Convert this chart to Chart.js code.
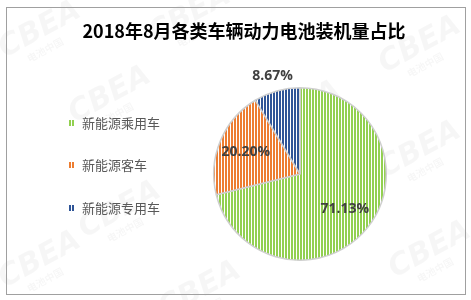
<!DOCTYPE html>
<html>
<head>
<meta charset="utf-8">
<script src="https://cdn.jsdelivr.net/npm/chart.js@4/dist/chart.umd.min.js"></script>
<style>
  html, body { margin: 0; padding: 0; background: #fff; }
  #wrap { width: 471px; height: 300px; position: relative; }
</style>
</head>
<body>
<div id="wrap"><canvas id="pieChart" width="471" height="300"></canvas></div>
<script>
// =========================
// DATA
// =========================
const chartTitle = "2018年8月各类车辆动力电池装机量占比";
const categories = ["新能源乘用车", "新能源客车", "新能源专用车"];
const shares = [71.13, 20.20, 8.67];
const labels = ["71.13%", "20.20%", "8.67%"];
const baseColors = ["#92d050", "#ed7d31", "#2f5597"];

// striped fill like the Excel pattern
function stripes(color) {
    const c = document.createElement("canvas");
    c.width = 3;
    c.height = 3;
    const g = c.getContext("2d");
    g.fillStyle = "#ffffff";
    g.fillRect(0, 0, 3, 3);
    g.fillStyle = color;
    g.fillRect(0, 0, 2, 3);
    return g.createPattern(c, "repeat");
}

const patterns = baseColors.map(stripes);

// title, legend, frame, watermark and value labels
const decor = {
    id: "decor",
    beforeDraw(chart) {
        const ctx = chart.ctx;
        ctx.save();
        ctx.fillStyle = "#fff";
        ctx.fillRect(0, 0, chart.width, chart.height);

        // faint watermark
        ctx.fillStyle = "rgba(0,0,0,0.035)";
        ctx.textAlign = "center";
        ctx.textBaseline = "middle";
        const spots = [[40, 30], [190, 15], [420, 45], [110, 95], [300, 110], [420, 150],
                       [120, 210], [300, 225], [430, 250], [40, 260], [200, 290]];
        spots.forEach(p => {
            ctx.save();
            ctx.translate(p[0], p[1]);
            ctx.rotate(-0.5);
            ctx.font = "italic bold 30px 'DejaVu Sans'";
            ctx.fillText("CBEA", 0, 0);
            ctx.font = "bold 10px 'Noto Sans CJK SC'";
            ctx.fillText("电池中国", -5, 20);
            ctx.restore();
        });

        // frame (filled strips so it cannot be lost)
        ctx.fillStyle = "#a0a0a0";
        ctx.fillRect(6, 7, 460, 1);
        ctx.fillRect(6, 294, 460, 1);
        ctx.fillRect(6, 7, 1, 288);
        ctx.fillRect(465, 7, 1, 288);

        // title
        ctx.fillStyle = "#000";
        ctx.font = "bold 18px 'Noto Sans CJK SC'";
        ctx.fillText(chartTitle, 244, 31);

        // legend
        ctx.textAlign = "left";
        ctx.font = "13px 'Noto Sans CJK SC'";
        const legendY = [123, 165, 208];
        categories.forEach((name, i) => {
            ctx.fillStyle = patterns[i];
            ctx.fillRect(68, legendY[i] - 3, 6, 6);
            ctx.fillStyle = "#595959";
            ctx.fillText(name, 82, legendY[i]);
        });
        ctx.restore();
    },
    afterDraw(chart) {
        const ctx = chart.ctx;
        const arcs = chart.getDatasetMeta(0).data;
        const factors = [0.66, 0.68, 1.18];
        ctx.save();
        ctx.font = "bold 14px 'Open Sans'";
        ctx.fillStyle = "#404040";
        ctx.textAlign = "center";
        ctx.textBaseline = "middle";
        arcs.forEach((arc, i) => {
            const mid = (arc.startAngle + arc.endAngle) / 2;
            const r = arc.outerRadius * factors[i];
            ctx.fillText(labels[i], arc.x + Math.cos(mid) * r, arc.y + Math.sin(mid) * r);
        });
        ctx.restore();
    }
};

new Chart(document.getElementById("pieChart"), {
    type: "pie",
    data: {
        labels: categories,
        datasets: [{
            data: shares,
            backgroundColor: patterns,
            borderColor: "#cfcfcf",
            borderWidth: 1.5
        }]
    },
    options: {
        responsive: false,
        animation: false,
        layout: {
            padding: { left: 213, right: 84, top: 87, bottom: 39 }
        },
        plugins: {
            legend: { display: false },
            title: { display: false },
            tooltip: { enabled: false }
        }
    },
    plugins: [decor]
});
</script>
</body>
</html>
